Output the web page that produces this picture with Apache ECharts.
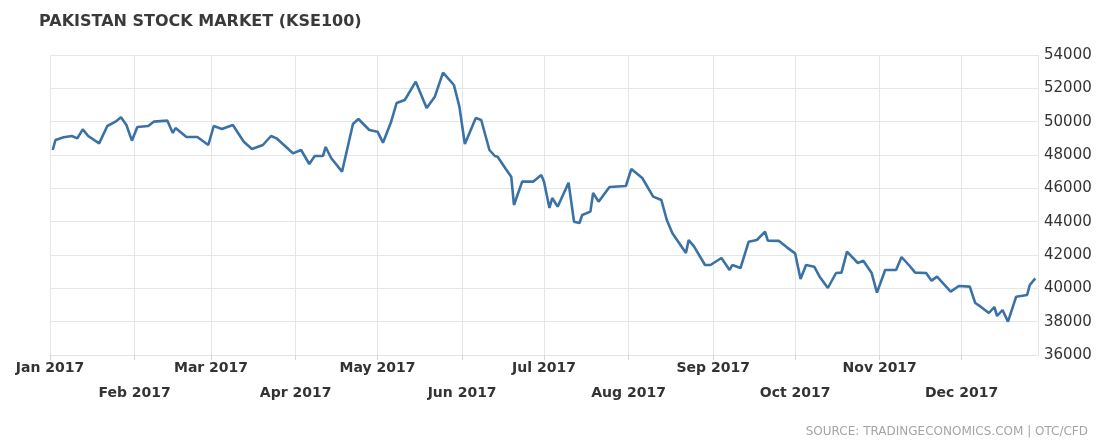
<!DOCTYPE html>
<html>

<head>
    <title></title>
    <meta charset="utf-8">
    <script src="https://cdn.jsdelivr.net/npm/echarts@6/dist/echarts.min.js"></script>
    <style>
        body {
            margin: 0;
            background: #fff;
        }

        #main {
            width: 1098px;
            height: 441px;
        }
    </style>
</head>

<body>
    <div id="main"></div>
    <script type="text/javascript">
        // KSE100 closing values
        var dates = [
            '2017-01-02', '2017-01-03', '2017-01-06', '2017-01-09', '2017-01-11', '2017-01-13', '2017-01-15',
            '2017-01-19', '2017-01-22', '2017-01-25', '2017-01-27', '2017-01-29', '2017-01-31', '2017-02-02',
            '2017-02-06', '2017-02-08', '2017-02-13', '2017-02-15', '2017-02-16', '2017-02-20', '2017-02-24',
            '2017-02-28', '2017-03-02', '2017-03-05', '2017-03-09', '2017-03-13', '2017-03-16', '2017-03-20',
            '2017-03-23', '2017-03-25', '2017-03-27', '2017-03-31', '2017-04-03', '2017-04-06', '2017-04-08',
            '2017-04-11', '2017-04-12', '2017-04-14', '2017-04-18', '2017-04-22', '2017-04-24', '2017-04-28',
            '2017-05-01', '2017-05-03', '2017-05-06', '2017-05-08', '2017-05-11', '2017-05-15', '2017-05-19',
            '2017-05-22', '2017-05-25', '2017-05-29', '2017-05-31', '2017-06-02', '2017-06-06', '2017-06-08',
            '2017-06-11', '2017-06-13', '2017-06-14', '2017-06-17', '2017-06-19', '2017-06-20', '2017-06-23',
            '2017-06-27', '2017-06-30', '2017-07-01', '2017-07-03', '2017-07-04', '2017-07-06', '2017-07-10',
            '2017-07-12', '2017-07-14', '2017-07-15', '2017-07-18', '2017-07-19', '2017-07-21', '2017-07-25',
            '2017-07-31', '2017-08-02', '2017-08-06', '2017-08-10', '2017-08-13', '2017-08-15', '2017-08-17',
            '2017-08-22', '2017-08-23', '2017-08-25', '2017-08-29', '2017-08-31', '2017-09-04', '2017-09-07',
            '2017-09-08', '2017-09-11', '2017-09-14', '2017-09-17', '2017-09-20', '2017-09-21', '2017-09-25',
            '2017-09-28', '2017-10-01', '2017-10-03', '2017-10-05', '2017-10-08', '2017-10-10', '2017-10-13',
            '2017-10-16', '2017-10-18', '2017-10-20', '2017-10-24', '2017-10-26', '2017-10-29', '2017-10-31',
            '2017-11-03', '2017-11-07', '2017-11-09', '2017-11-12', '2017-11-14', '2017-11-18', '2017-11-20',
            '2017-11-22', '2017-11-27', '2017-11-30', '2017-12-04', '2017-12-06', '2017-12-08', '2017-12-11',
            '2017-12-13', '2017-12-14', '2017-12-16', '2017-12-18', '2017-12-21', '2017-12-25', '2017-12-26',
            '2017-12-28'
        ];
        var values = [
            48300, 48900, 49060, 49140, 49000, 49540, 49140,
            48700, 49740, 50000, 50260, 49800, 48860, 49680,
            49740, 50000, 50060, 49320, 49620, 49080, 49080,
            48600, 49740, 49560, 49800, 48800, 48360, 48600,
            49140, 49000, 48700, 48100, 48300, 47460, 47940,
            47940, 48480, 47820, 47000, 49860, 50160, 49500,
            49400, 48740, 50000, 51120, 51300, 52400, 50820,
            51500, 52940, 52200, 50900, 48660, 50220, 50100,
            48300, 47940, 47900, 47160, 46700, 45000, 46400,
            46400, 46800, 46400, 44820, 45420, 44900, 46340,
            44000, 43920, 44400, 44600, 45720, 45200, 46080,
            46140, 47160, 46620, 45500, 45300, 44100, 43320,
            42120, 42900, 42500, 41400, 41400, 41820, 41100,
            41400, 41220, 42800, 42900, 43400, 42860, 42850,
            42460, 42100, 40560, 41400, 41300, 40700, 40020,
            40920, 40940, 42200, 41520, 41660, 40940, 39740,
            41100, 41100, 41880, 41340, 40940, 40920, 40460,
            40700, 39800, 40140, 40100, 39120, 38900, 38520,
            38880, 38340, 38700, 38000, 39500, 39600, 40200,
            40600
        ];
        var monthLabels = ['Jan 2017', 'Feb 2017', 'Mar 2017', 'Apr 2017', 'May 2017', 'Jun 2017',
            'Jul 2017', 'Aug 2017', 'Sep 2017', 'Oct 2017', 'Nov 2017', 'Dec 2017'];
        var yTicks = [36000, 38000, 40000, 42000, 44000, 46000, 48000, 50000, 52000, 54000];

        var seriesData = dates.map(function (d, i) {
            return [d, values[i]];
        });

        var myChart = echarts.init(document.getElementById('main'));
        var font = 'DejaVu Sans';
        var option = {
            animation: false,
            backgroundColor: '#fff',
            title: {
                text: 'PAKISTAN STOCK MARKET (KSE100)',
                left: 34,
                top: 9,
                textStyle: {
                    fontFamily: font,
                    fontSize: 16,
                    fontWeight: 'bold',
                    color: '#3a3a3a'
                }
            },
            graphic: [{
                type: 'text',
                right: 10,
                top: 426,
                style: {
                    text: 'SOURCE: TRADINGECONOMICS.COM | OTC/CFD',
                    font: '12px "DejaVu Sans"',
                    fill: '#a5a5a5'
                }
            }],
            grid: {
                left: 50,
                right: 60,
                top: 55,
                bottom: 86
            },
            xAxis: {
                type: 'time',
                min: '2017-01-01',
                max: '2017-12-29',
                splitNumber: 12,
                minInterval: 28 * 24 * 3600 * 1000,
                maxInterval: 31 * 24 * 3600 * 1000,
                axisLine: { show: true, lineStyle: { color: '#e3e3e3' } },
                axisTick: { show: true, length: 5, lineStyle: { color: '#d5d5d5' } },
                splitLine: { show: true, lineStyle: { color: '#e6e6e6', width: 1 } },
                axisLabel: {
                    margin: 6,
                    color: '#333',
                    fontFamily: font,
                    fontSize: 14,
                    fontWeight: 'bold',
                    hideOverlap: false,
                    formatter: function (value) {
                        var m = new Date(value).getMonth();
                        return (m % 2 === 0 ? '{a|' : '{b|') + monthLabels[m] + '}';
                    },
                    rich: {
                        a: { fontFamily: font, fontSize: 14, fontWeight: 'bold', color: '#333' },
                        b: { fontFamily: font, fontSize: 14, fontWeight: 'bold', color: '#333', padding: [25, 0, 0, 0] }
                    }
                }
            },
            yAxis: {
                type: 'value',
                position: 'right',
                min: yTicks[0],
                max: yTicks[yTicks.length - 1],
                interval: 2000,
                axisLine: { show: false },
                axisTick: { show: false },
                splitLine: { lineStyle: { color: '#e6e6e6' } },
                axisLabel: {
                    margin: 6,
                    color: '#333',
                    fontFamily: font,
                    fontSize: 15,
                    formatter: function (v) {
                        return String(v);
                    }
                }
            },
            series: [{
                type: 'line',
                data: seriesData,
                showSymbol: false,
                lineStyle: { color: '#3b72a6', width: 2.6 },
                itemStyle: { color: '#3b72a6' }
            }]
        };
        myChart.setOption(option);
    </script>
</body>

</html>
